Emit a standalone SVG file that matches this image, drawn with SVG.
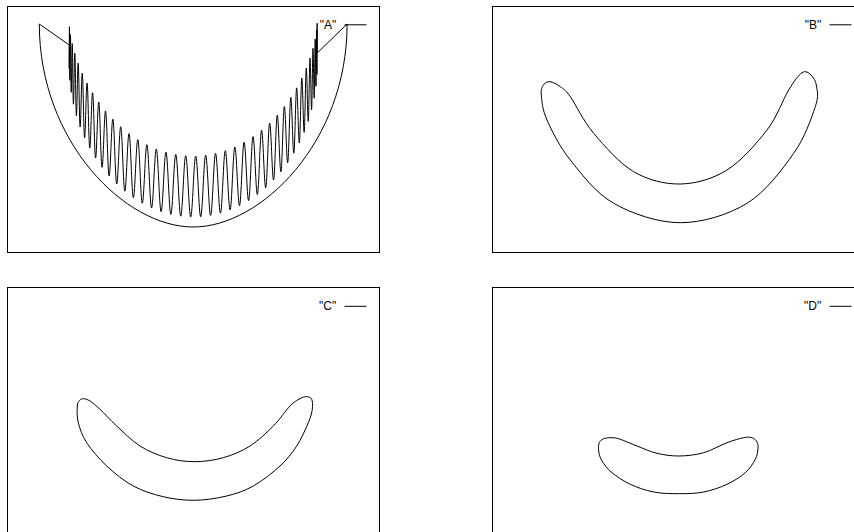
<svg xmlns="http://www.w3.org/2000/svg" width="854" height="532" viewBox="0 0 854 532">
<style>
.frame{fill:none;stroke:#000;stroke-width:1}
.curve{fill:none;stroke:#000;stroke-width:1;stroke-linejoin:round}
.keyline{stroke:#000;stroke-width:1}
.keytext{font-family:"Liberation Sans",Arial,sans-serif;font-size:12px;fill:#000;text-anchor:end}
</style>
<rect width="854" height="532" fill="#fff"/>
<g id="panel-A">
<rect class="frame" x="7.5" y="6.5" width="372" height="246"/>
<path class="curve" d="M39.3,24 C39.3,142 125.2,227 193.2,227 C261.2,227 347.1,142 347.1,24 L317.2,53 L317.18,23.28 C317.10,23.28 317.05,74.37 316.97,74.37 S316.72,30.44 316.57,30.44 S316.19,86.31 315.97,86.31 S315.46,38.98 315.17,38.98 S314.53,98.26 314.17,98.26 S313.41,48.29 312.98,48.29 S312.10,109.98 311.59,109.98 S310.58,58.05 310.00,58.05 S308.87,121.40 308.23,121.40 S306.99,68.03 306.28,68.03 S304.92,132.44 304.14,132.44 S302.66,78.03 301.81,78.03 S300.22,143.06 299.32,143.06 S297.62,87.87 296.65,87.87 S294.84,153.19 293.81,153.19 S291.90,97.41 290.81,97.41 S288.80,162.77 287.65,162.77 S285.54,106.53 284.34,106.53 S282.14,171.77 280.88,171.77 S278.59,115.10 277.28,115.10 S274.90,180.09 273.54,180.09 S271.08,123.05 269.67,123.05 S267.13,187.72 265.68,187.72 S263.06,130.25 261.57,130.25 S258.88,194.57 257.35,194.57 S254.60,136.67 253.03,136.67 S250.21,200.57 248.60,200.57 S245.74,142.25 244.10,142.25 S241.17,205.70 239.50,205.70 S236.53,146.92 234.83,146.92 S231.81,209.92 230.09,209.92 S227.03,150.67 225.29,150.67 S222.20,213.18 220.44,213.18 S217.33,153.44 215.55,153.44 S212.41,215.45 210.62,215.45 S207.46,155.20 205.66,155.20 S202.50,216.72 200.69,216.72 S197.51,155.97 195.70,155.97 S192.52,216.97 190.70,216.97 S187.52,155.72 185.71,155.72 S182.55,216.20 180.74,216.20 S177.58,154.45 175.78,154.45 S172.64,214.44 170.85,214.44 S167.74,152.18 165.96,152.18 S162.87,211.67 161.11,211.67 S158.05,148.92 156.31,148.92 S153.29,207.92 151.57,207.92 S148.60,144.70 146.90,144.70 S143.97,203.25 142.30,203.25 S139.44,139.57 137.80,139.57 S134.98,197.67 133.37,197.67 S130.62,133.57 129.05,133.57 S126.36,191.23 124.83,191.23 S122.21,126.74 120.72,126.74 S118.18,184.01 116.73,184.01 S114.27,119.15 112.86,119.15 S110.48,176.02 109.12,176.02 S106.83,110.89 105.52,110.89 S103.32,167.35 102.06,167.35 S99.95,102.03 98.75,102.03 S96.74,158.05 95.59,158.05 S93.68,92.69 92.59,92.69 S90.78,148.19 89.75,148.19 S88.05,82.98 87.08,82.98 S85.49,137.81 84.59,137.81 S83.11,73.04 82.26,73.04 S80.90,126.97 80.12,126.97 S78.88,63.02 78.17,63.02 S77.04,115.73 76.40,115.73 S75.39,53.12 74.81,53.12 S73.93,104.15 73.42,104.15 S72.66,43.56 72.23,43.56 S71.59,92.30 71.23,92.30 S70.72,34.59 70.43,34.59 S70.05,80.32 69.83,80.32 S69.58,26.63 69.43,26.63 S69.30,68.60 69.22,68.60 L69.3,45 Z"/>
<text class="keytext" x="336.3" y="28.8">"A"</text>
<line class="keyline" x1="344.5" y1="24.8" x2="366.5" y2="24.8"/>
</g>
<g id="panel-B">
<rect class="frame" x="492.5" y="6.5" width="372" height="246"/>
<path class="curve" d="M550.0,81.7 C552.80,81.98 556.92,84.20 560.3,86.7 S564.73,88.93 570.3,96.7 S583.13,120.80 593.7,133.3 S619.27,163.25 633.7,171.7 S664.75,184.28 680.3,184.0 S712.55,179.0 727.0,170.0 S756.72,143.33 767.0,130.0 S782.87,99.55 788.7,90.0 S798.28,75.2 802.0,72.7 S808.58,72.78 811.0,75.0 S815.78,80.72 816.5,86.0 S819.1,95.48 815.3,106.7 S805.08,137.2 793.7,153.3 S765.9,191.73 747.0,203.3 S702.52,222.7 680.3,222.7 S632.03,213.75 613.7,203.3 S581.42,173.88 570.3,160.0 S551.83,130.83 547.0,120.0 S541.88,100.83 541.3,95.0 S542.05,87.22 543.5,85.0 S547.2,81.42 550.0,81.7 Z"/>
<text class="keytext" x="821.3" y="28.8">"B"</text>
<line class="keyline" x1="829.5" y1="24.8" x2="851.5" y2="24.8"/>
</g>
<g id="panel-C">
<rect class="frame" x="7.5" y="287.5" width="372" height="246"/>
<path class="curve" d="M83.3,398.7 C85.05,398.78 87.22,399.23 90.0,401.0 S95.55,405.13 100.0,409.3 S110.03,419.88 116.7,426.0 S131.67,440.72 140.0,446.0 S157.65,455.08 166.7,457.7 S184.87,461.7 194.3,461.7 S214.02,460.32 223.3,457.7 S241.67,451.28 250.0,446.0 S266.63,432.67 273.3,426.0 S285.55,410.55 290.0,406.0 S297.22,400.25 300.0,398.7 S304.75,396.6 306.7,396.7 S310.77,397.2 311.7,399.3 S312.87,405.4 312.3,409.3 S310.9,416.58 308.3,422.7 S301.42,438.78 296.7,446.0 S287.23,459.33 280.0,466.0 S262.18,481.0 253.3,486.0 S236.53,493.62 226.7,496.0 S204.87,500.18 194.3,500.3 S173.47,499.08 163.3,496.7 S142.73,491.12 133.3,486.0 S114.47,473.22 106.7,466.0 S91.43,449.92 86.7,442.7 S79.87,428.82 78.3,422.7 S77.1,409.7 77.3,406.0 S78.5,401.72 79.5,400.5 S81.55,398.62 83.3,398.7 Z"/>
<text class="keytext" x="336.3" y="310.3">"C"</text>
<line class="keyline" x1="344.5" y1="306.3" x2="366.5" y2="306.3"/>
</g>
<g id="panel-D">
<rect class="frame" x="492.5" y="287.5" width="372" height="246"/>
<path class="curve" d="M612.0,437.7 C614.77,437.8 616.13,437.92 620.3,439.3 S630.88,443.67 637.0,446.0 S649.95,451.63 657.0,453.3 S671.52,456.1 679.3,456.0 S695.75,454.92 703.7,452.7 S720.33,445.2 727.0,442.7 S739.53,438.53 743.7,437.7 S749.78,436.98 752.0,437.7 S756.0,440.17 757.0,442.0 S758.28,445.82 758.0,448.7 S757.42,455.3 755.3,459.3 S750.02,468.53 745.3,472.7 S733.93,481.08 727.0,484.3 S711.65,490.43 703.7,492.0 S687.63,493.7 679.3,493.7 S661.87,493.57 653.7,492.0 S637.25,487.52 630.3,484.3 S616.72,476.58 612.0,472.7 S604.22,464.62 602.0,461.0 S599.15,454.05 598.7,451.0 S598.47,444.75 599.3,442.7 S601.58,439.53 603.7,438.7 S609.23,437.6 612.0,437.7 Z"/>
<text class="keytext" x="821.3" y="310.3">"D"</text>
<line class="keyline" x1="829.5" y1="306.3" x2="851.5" y2="306.3"/>
</g>
</svg>
